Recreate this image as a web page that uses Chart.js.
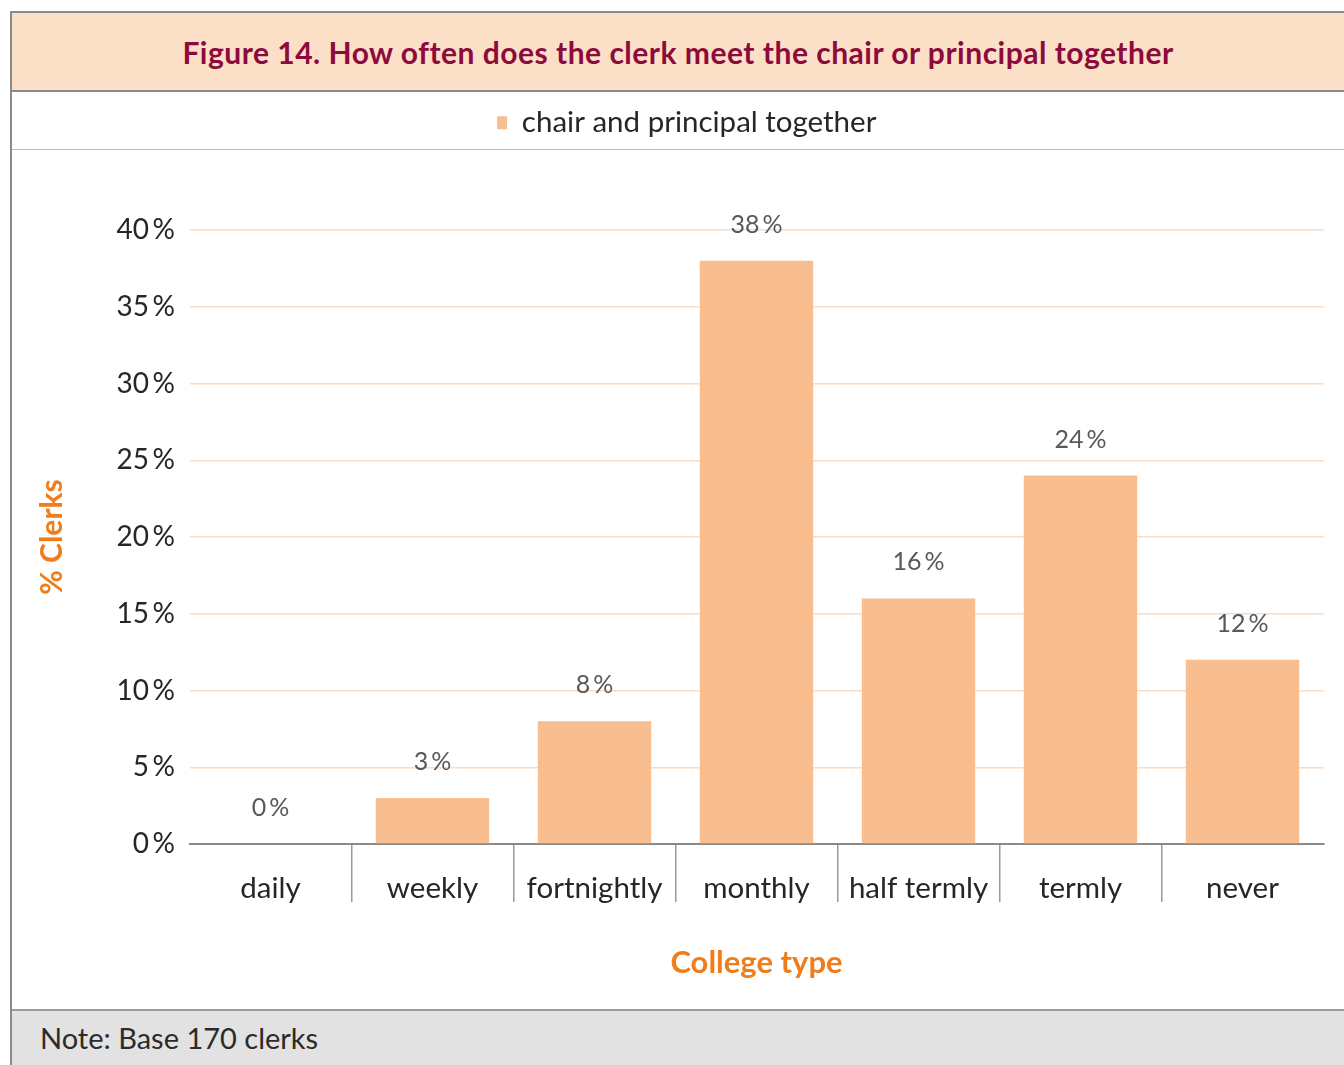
<!DOCTYPE html>
<html>
<head>
<meta charset="utf-8">
<title>Figure 14</title>
<script src="https://cdn.jsdelivr.net/npm/chart.js@4.4.1/dist/chart.umd.min.js"></script>
<style>
  html, body { margin: 0; padding: 0; background: #ffffff; }
  body { width: 1344px; height: 1065px; position: relative; overflow: hidden; font-family: Lato, "Open Sans", sans-serif; }
  #frame { position: absolute; left: 10px; top: 11px; width: 1340px; height: 1060px; border-left: 2px solid #8a8a8a; border-top: 2px solid #8a8a8a; }
  #head { position: absolute; left: 12px; top: 13px; width: 1332px; height: 77px; background: #FBDFC7; border-bottom: 2px solid #8a8a8a; display: flex; align-items: center; justify-content: center; }
  #head h1 { margin: 0; font: 700 30px Lato, sans-serif; letter-spacing: 0.5px; color: #8C0A3C; }
  #wrap { position: absolute; left: 12px; top: 92px; width: 1332px; height: 918px; }
  #rule { position: absolute; left: 12px; top: 149px; width: 1332px; height: 1px; background: #bdbdbd; }
  #foot { position: absolute; left: 12px; top: 1009px; width: 1332px; height: 56px; background: #E2E2E2; border-top: 2px solid #9a9a9a; }
  #foot p { margin: 0; position: absolute; left: 28px; top: 9px; line-height: 54px; font: 400 29px Lato, sans-serif; color: #2b2b2b; }
</style>
</head>
<body>
<div id="frame"></div>
<div id="head"><h1>Figure 14. How often does the clerk meet the chair or principal together</h1></div>
<div id="wrap"><canvas id="chart"></canvas></div>
<div id="rule"></div>
<div id="foot"><p>Note: Base 170 clerks</p></div>
<script>
// Meeting frequency categories and the share of clerks in each (percent)
const categories = ['daily', 'weekly', 'fortnightly', 'monthly', 'half termly', 'termly', 'never'];
const seriesName = 'chair and principal together';
const clerkShares = [0, 3, 8, 38, 16, 24, 12];
const yTickValues = [0, 5, 10, 15, 20, 25, 30, 35, 40];
const yAxisTitle = '% Clerks';
const xAxisTitle = 'College type';

const pct = v => v + '\u2009%';

// Extra space between the legend band and the plot
const legendGap = {
  id: 'legendGap',
  beforeLayout(chart) {
    const lg = chart.legend;
    if (lg && !lg.$gapPatched) {
      const fit = lg.fit;
      lg.fit = function () { fit.call(this); this.height += 82.5; };
      lg.$gapPatched = true;
    }
  }
};

// Value labels above each bar
const valueLabels = {
  id: 'valueLabels',
  afterDatasetsDraw(chart) {
    const { ctx } = chart;
    const meta = chart.getDatasetMeta(0);
    const values = chart.data.datasets[0].data;
    ctx.save();
    ctx.font = '400 25px Lato, sans-serif';
    ctx.fillStyle = '#595959';
    ctx.textAlign = 'center';
    ctx.textBaseline = 'middle';
    meta.data.forEach((bar, i) => {
      ctx.fillText(pct(values[i]), bar.x, bar.y - 36);
    });
    ctx.restore();
  }
};

Chart.defaults.font.family = 'Lato, "Open Sans", sans-serif';
Chart.defaults.color = '#262626';

new Chart(document.getElementById('chart'), {
  type: 'bar',
  data: {
    labels: categories,
    datasets: [{
      label: seriesName,
      data: clerkShares,
      backgroundColor: '#F8BE90',
      borderWidth: 0,
      barPercentage: 0.7,
      categoryPercentage: 1
    }]
  },
  plugins: [legendGap, valueLabels],
  options: {
    responsive: true,
    maintainAspectRatio: false,
    devicePixelRatio: 1,
    animation: false,
    layout: { padding: { left: 38, right: 20.5, top: 0, bottom: 0 } },
    plugins: {
      tooltip: { enabled: false },
      legend: {
        position: 'top',
        align: 'center',
        labels: {
          boxWidth: 10,
          boxHeight: 13,
          padding: 16,
          color: '#262626',
          font: { size: 29.5, weight: '400' }
        }
      }
    },
    scales: {
      x: {
        offset: true,
        grid: {
          offset: true,
          drawOnChartArea: false,
          drawTicks: true,
          tickLength: 58,
          lineWidth: 1.5,
          color: c => (c.type === 'tick' && c.index > 0) ? '#9a9a9a' : 'rgba(0,0,0,0)'
        },
        border: { display: true, color: '#8a8a8a', width: 2 },
        ticks: { padding: -31, color: '#262626', font: { size: 29.5 }, maxRotation: 0, autoSkip: false },
        title: {
          display: true,
          text: xAxisTitle,
          color: '#F07D1A',
          font: { size: 31, weight: '700' },
          padding: { top: 0, bottom: 28 }
        },
        afterFit(scale) { scale.height = 166; }
      },
      y: {
        min: 0,
        max: 40,
        afterBuildTicks(scale) { scale.ticks = yTickValues.map(v => ({ value: v })); },
        grid: { color: '#FBDCC4', lineWidth: 1.5, drawTicks: false },
        border: { display: false },
        ticks: { padding: 14.5, color: '#262626', font: { size: 28 }, callback: v => pct(v) },
        title: {
          display: true,
          text: yAxisTitle,
          color: '#F07D1A',
          font: { size: 30, weight: '700' },
          padding: { top: -16, bottom: 0 }
        },
        afterFit(scale) { scale.width = 139.5; }
      }
    }
  }
});
</script>
</body>
</html>
